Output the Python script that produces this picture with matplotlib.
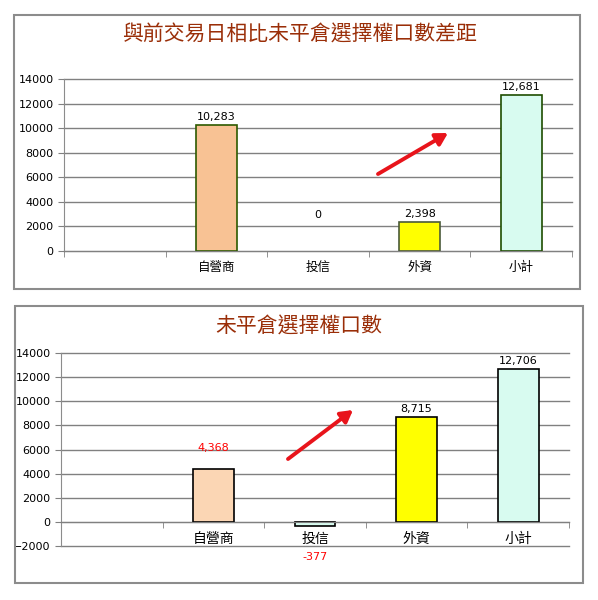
import numpy as np
import matplotlib
matplotlib.use("Agg")
import matplotlib.pyplot as plt
from matplotlib.patches import Rectangle, FancyArrowPatch

plt.rcParams['font.family'] = ['Noto Sans CJK TC', 'DejaVu Sans']

# ---------------------------
# Datos
categorias = ['', '自營商', '投信', '外資', '小計']

titulo_arriba = '與前交易日相比未平倉選擇權口數差距'
valores_arriba = [np.nan, 10283, 0, 2398, 12681]
colores_arriba = ['none', '#F8C294', 'none', '#FFFF00', '#D8FBF0']
bordes_arriba = ['none', '#2D5A00', 'none', '#4A5A3A', '#1E4D00']

titulo_abajo = '未平倉選擇權口數'
valores_abajo = [np.nan, 4368, -377, 8715, 12706]
colores_abajo = ['none', '#FBD6B4', '#D8FBF0', '#FFFF00', '#D8FBF0']
bordes_abajo = ['none', '#000000', '#000000', '#000000', '#000000']
etiquetas_rojas = [False, True, True, False, False]

W, H = 598, 600
fig = plt.figure(figsize=(W / 100, H / 100), dpi=100)
fig.patch.set_facecolor('white')


def px_ax(izq, der, arriba, abajo):
    """Crea un eje a partir de coordenadas en pixeles."""
    return fig.add_axes([izq / W, 1 - abajo / H, (der - izq) / W, (abajo - arriba) / H])


def marco(izq, der, arriba, abajo):
    fig.add_artist(Rectangle((izq / W, 1 - abajo / H), (der - izq) / W, (abajo - arriba) / H,
                             transform=fig.transFigure, fill=False,
                             edgecolor='#8C8C8C', lw=1.5))


def flecha(x0, y0, x1, y1):
    fig.add_artist(FancyArrowPatch(
        (x0 / W, 1 - y0 / H), (x1 / W, 1 - y1 / H), transform=fig.transFigure,
        arrowstyle='-|>,head_length=7,head_width=4', color='#E8141B', lw=2.8,
        shrinkA=0, shrinkB=0))


def preparar_eje(ax, ymin, ymax):
    x = np.arange(len(categorias))
    ax.set_xlim(-0.5, len(categorias) - 0.5)
    ax.set_ylim(ymin, ymax)
    ax.set_yticks(np.arange(ymin, ymax + 1, 2000))
    ax.yaxis.grid(True, color='#808080', lw=1)
    for g in ax.yaxis.get_gridlines():
        g.set_clip_on(False)
    ax.set_axisbelow(True)
    for s in ['top', 'right']:
        ax.spines[s].set_visible(False)
    ax.spines['left'].set_color('#8C8C8C')
    ax.spines['bottom'].set_color('#808080')
    ax.set_xticks(x)
    ax.set_xticklabels(categorias, fontsize=9)
    ax.set_xticks(np.arange(-0.5, len(categorias), 1), minor=True)
    ax.tick_params(axis='x', which='major', length=0, pad=7)
    ax.tick_params(axis='x', which='minor', length=4, color='#808080')
    ax.tick_params(axis='y', length=4, color='#808080', labelsize=8)
    for lab in ax.get_yticklabels():
        lab.set_family('DejaVu Sans')
    return x


# ---------------------------
# Grafico superior
marco(14, 580, 15, 289)
ax1 = px_ax(64, 572, 79, 251)
x = preparar_eje(ax1, 0, 14000)
ax1.bar(x, valores_arriba, width=0.4, color=colores_arriba,
        edgecolor=bordes_arriba, lw=1.2)
for xi, v in zip(x, valores_arriba):
    if np.isnan(v):
        continue
    y_txt = v if v > 0 else 2300
    ax1.annotate(f'{v:,.0f}', (xi, y_txt), xytext=(0, 2), textcoords='offset points',
                 ha='center', va='bottom', fontsize=8, family='DejaVu Sans')
fig.text(0.5, 1 - 35 / H, titulo_arriba, ha='center', va='center',
         fontsize=15, color='#9A2E08')
flecha(378, 174, 448, 133)

# ---------------------------
# Grafico inferior
marco(15, 583, 306, 583)
ax2 = px_ax(61, 569, 353, 546)
x = preparar_eje(ax2, -2000, 14000)
ax2.spines['bottom'].set_position(('data', 0))
ax2.bar(x, valores_abajo, width=0.4, color=colores_abajo,
        edgecolor=bordes_abajo, lw=1.2)
for xi, v, rojo in zip(x, valores_abajo, etiquetas_rojas):
    if np.isnan(v):
        continue
    color = '#FF0000' if rojo else 'black'
    if v < 0:
        ax2.annotate(f'{v:,.0f}', (xi, -2000), xytext=(0, -4), textcoords='offset points',
                     ha='center', va='top', fontsize=8, color=color, family='DejaVu Sans')
    elif rojo:
        ax2.annotate(f'{v:,.0f}', (xi, v), xytext=(0, 12), textcoords='offset points',
                     ha='center', va='bottom', fontsize=8, color=color, family='DejaVu Sans')
    else:
        ax2.annotate(f'{v:,.0f}', (xi, v), xytext=(0, 2), textcoords='offset points',
                     ha='center', va='bottom', fontsize=8, color=color, family='DejaVu Sans')
fig.text(0.5, 1 - 327 / H, titulo_abajo, ha='center', va='center',
         fontsize=15, color='#9A2E08')
flecha(288, 459, 353, 410)

fig.savefig('out.png', dpi=100)
